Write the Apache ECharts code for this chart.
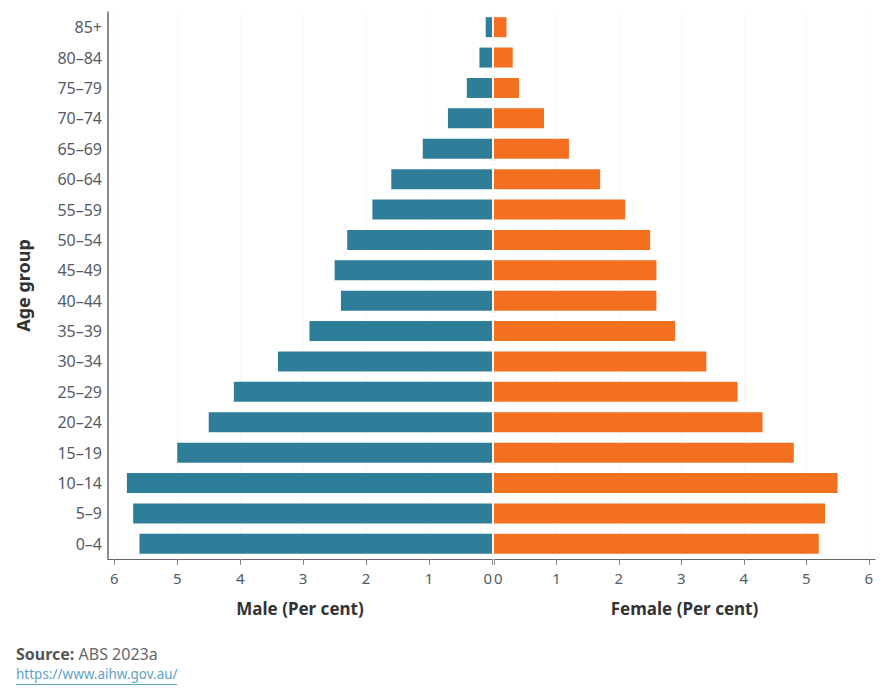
<!DOCTYPE html>
<html>
<head>
<meta charset="utf-8">
<script src="https://cdn.jsdelivr.net/npm/echarts@6/dist/echarts.min.js"></script>
<style>
    html, body { margin: 0; padding: 0; background: #fff; }
    #pyramid { width: 890px; height: 700px; }
</style>
</head>
<body>
<div id="pyramid"></div>
<script>
// age groups, bottom to top
var ageGroups = ['0–4', '5–9', '10–14', '15–19', '20–24', '25–29', '30–34', '35–39', '40–44',
    '45–49', '50–54', '55–59', '60–64', '65–69', '70–74', '75–79', '80–84', '85+'];
// per cent of population
var male = [5.6, 5.7, 5.8, 5.0, 4.5, 4.1, 3.4, 2.9, 2.4, 2.5, 2.3, 1.9, 1.6, 1.1, 0.7, 0.4, 0.2, 0.1];
var female = [5.2, 5.3, 5.5, 4.8, 4.3, 3.9, 3.4, 2.9, 2.6, 2.6, 2.5, 2.1, 1.7, 1.2, 0.8, 0.4, 0.3, 0.2];
var tickValues = [0, 1, 2, 3, 4, 5, 6];

var font = 'Noto Sans';
var maleColor = '#2e7e99';
var femaleColor = '#f37021';

function valueAxis(gridIndex, inverse, name) {
    return {
        type: 'value',
        gridIndex: gridIndex,
        inverse: inverse,
        min: 0,
        max: 6.1,
        name: name,
        nameLocation: 'middle',
        nameGap: 41,
        nameTextStyle: { fontFamily: font, fontSize: 17, fontWeight: 'bold', color: '#333' },
        axisLine: { show: true, lineStyle: { color: '#666', width: 1 } },
        axisTick: { show: true, length: 6, customValues: tickValues, lineStyle: { color: '#888' } },
        axisLabel: {
            customValues: tickValues, margin: 11, fontFamily: font, fontSize: 15, color: '#555b66',
            alignMinLabel: inverse ? 'right' : 'left'
        },
        splitLine: { show: true, lineStyle: { color: '#e6e6e6', type: [1, 3] } }
    };
}

function catAxis(gridIndex, visible) {
    return {
        type: 'category',
        gridIndex: gridIndex,
        data: ageGroups,
        name: visible ? 'Age group' : '',
        nameLocation: 'middle',
        nameRotate: 90,
        nameGap: 76,
        nameTextStyle: { fontFamily: font, fontSize: 18, fontWeight: 'bold', color: '#333' },
        axisLine: { show: visible, onZero: false, lineStyle: { color: '#666', width: 1.5 } },
        axisTick: { show: false },
        axisLabel: { show: visible, margin: 6, fontFamily: font, fontSize: 16, color: '#555b66' },
        splitLine: { show: false }
    };
}

var chart = echarts.init(document.getElementById('pyramid'), null, { renderer: 'svg' });
chart.setOption({
    animation: false,
    grid: [
        { left: 108, top: 12, width: 384, height: 547 },
        { left: 494, top: 12, width: 381, height: 547 }
    ],
    xAxis: [
        valueAxis(0, true, 'Male (Per cent)'),
        valueAxis(1, false, 'Female (Per cent)')
    ],
    yAxis: [catAxis(0, true), catAxis(1, false)],
    series: [
        {
            name: 'Male', type: 'bar', xAxisIndex: 0, yAxisIndex: 0,
            data: male, barWidth: 20, itemStyle: { color: maleColor }
        },
        {
            name: 'Female', type: 'bar', xAxisIndex: 1, yAxisIndex: 1,
            data: female, barWidth: 20, itemStyle: { color: femaleColor }
        }
    ],
    graphic: [
        {
            type: 'text', left: 16, top: 646,
            style: {
                text: '{b|Source:} ABS 2023a',
                font: '16px "Noto Sans"', fill: '#666',
                rich: { b: { fontFamily: font, fontSize: 16, fontWeight: 'bold', fill: '#555' } }
            }
        },
        {
            type: 'text', left: 16, top: 667,
            style: { text: 'https://www.aihw.gov.au/', font: '13.5px "Noto Sans"', fill: '#5fa3c3' }
        },
        {
            type: 'rect', left: 16, top: 684,
            shape: { width: 161, height: 1 },
            style: { fill: '#5fa3c3' }
        }
    ]
});
</script>
</body>
</html>
